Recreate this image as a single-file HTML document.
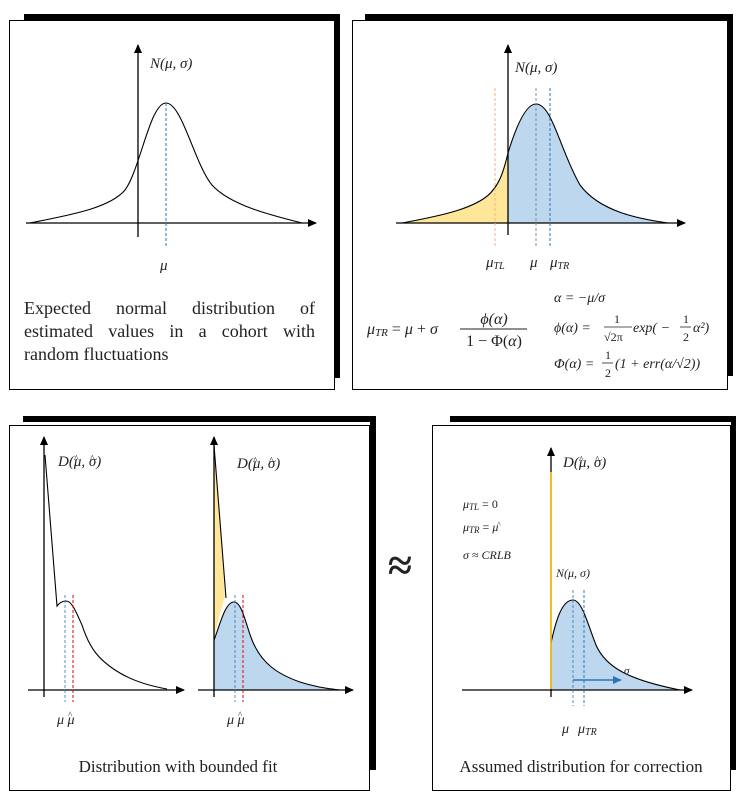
<!DOCTYPE html>
<html><head><meta charset="utf-8"><style>
body{margin:0;background:#fff;position:relative}
svg{display:block}
text{font-family:"Liberation Serif",serif;fill:#222}
.m{font-style:italic}
#cap{position:absolute;left:24px;top:297px;width:291px;font-family:"Liberation Serif",serif;font-size:18px;line-height:23px;color:#222}
#cap div.j{text-align:justify;text-align-last:justify}
</style></head><body>
<svg width="740" height="810" viewBox="0 0 740 810" xmlns="http://www.w3.org/2000/svg">
<defs>
<marker id="ar" markerWidth="10" markerHeight="10" refX="8" refY="5" orient="auto" markerUnits="userSpaceOnUse">
<path d="M0,1 L9,5 L0,9 Z" fill="#000"/></marker>
<marker id="ab" markerWidth="10" markerHeight="10" refX="8" refY="5" orient="auto" markerUnits="userSpaceOnUse">
<path d="M0,1 L9,5 L0,9 Z" fill="#2e75b6"/></marker>
</defs>

<!-- Panel 1 -->
<rect x="24" y="14" width="316" height="6" fill="#000"/>
<rect x="334" y="14" width="6" height="364" fill="#000"/>
<rect x="9.5" y="20.5" width="325" height="369" fill="#fff" stroke="#000"/>
<line x1="138" y1="237" x2="138" y2="45" stroke="#000" stroke-width="1.3" marker-end="url(#ar)"/>
<line x1="26" y1="223" x2="316" y2="223" stroke="#000" stroke-width="1.3" marker-end="url(#ar)"/>
<path d="M30,223 C70,215 110,208 125,190 C140,170 150,103 166,103 C182,103 195,165 212,185 C230,205 270,215 302,223" fill="none" stroke="#000" stroke-width="1.1"/>
<line x1="166" y1="103" x2="166" y2="246" stroke="#2e75b6" stroke-dasharray="3,2"/>
<text x="150" y="68" font-size="15" class="m">N(μ, σ)</text>
<text x="160" y="270" font-size="15" class="m">μ</text>

<!-- Panel 2 -->
<rect x="365" y="14" width="368" height="6" fill="#000"/>
<rect x="727" y="14" width="6" height="362" fill="#000"/>
<rect x="352.5" y="20.5" width="375" height="369" fill="#fff" stroke="#000"/>
<path d="M402,223 C440,216 480,208 493,190 C500,182 504,170 508,153 L508,223 Z" fill="#ffe699"/>
<path d="M508,153 C515,130 525,104 536,104 C552,104 560,150 580,185 C600,212 640,219 668,223 L508,223 Z" fill="#bdd7ee"/>
<path d="M402,223 C440,216 480,208 493,190 C500,182 504,170 508,153 C515,130 525,104 536,104 C552,104 560,150 580,185 C600,212 640,219 668,223" fill="none" stroke="#000" stroke-width="1.1"/>
<line x1="508" y1="235" x2="508" y2="45" stroke="#000" stroke-width="1.3" marker-end="url(#ar)"/>
<line x1="396" y1="223" x2="685" y2="223" stroke="#000" stroke-width="1.3" marker-end="url(#ar)"/>
<line x1="495" y1="88" x2="495" y2="246" stroke="#f4b183" stroke-dasharray="3,2"/>
<line x1="536" y1="88" x2="536" y2="246" stroke="#7f8c9a" stroke-dasharray="3,2"/>
<line x1="550" y1="88" x2="550" y2="246" stroke="#2e75b6" stroke-dasharray="3,2"/>
<text x="515" y="72" font-size="15" class="m">N(μ, σ)</text>
<text x="486" y="267" font-size="15" class="m">μ<tspan font-size="10" dy="2">TL</tspan></text>
<text x="530" y="267" font-size="15" class="m">μ</text>
<text x="550" y="267" font-size="15" class="m">μ<tspan font-size="10" dy="2">TR</tspan></text>
<text x="367" y="334" font-size="16" class="m">μ<tspan font-size="11" dy="2">TR</tspan><tspan dy="-2" font-style="normal"> = </tspan>μ<tspan font-style="normal"> + </tspan>σ</text>
<text x="494" y="324" font-size="16" class="m" text-anchor="middle">ϕ(α)</text>
<line x1="460" y1="329" x2="527" y2="329" stroke="#222"/>
<text x="494" y="346" font-size="16" class="m" text-anchor="middle"><tspan font-style="normal">1 − Φ(</tspan>α<tspan font-style="normal">)</tspan></text>
<text x="554" y="302" font-size="14" class="m">α = −μ/σ</text>
<text x="554" y="332" font-size="14" class="m">ϕ(α) =</text>
<text x="614" y="323" font-size="12">1</text>
<line x1="604" y1="327" x2="632" y2="327" stroke="#222" stroke-width="0.8"/>
<text x="604" y="341" font-size="12">√2π</text>
<text x="633" y="332" font-size="14" class="m">exp( −</text>
<text x="683" y="323" font-size="12">1</text>
<line x1="680" y1="327" x2="691" y2="327" stroke="#222" stroke-width="0.8"/>
<text x="683" y="341" font-size="12">2</text>
<text x="693" y="332" font-size="14" class="m">α²)</text>
<text x="554" y="368" font-size="14" class="m">Φ(α) =</text>
<text x="605" y="359" font-size="12">1</text>
<line x1="602" y1="363" x2="613" y2="363" stroke="#222" stroke-width="0.8"/>
<text x="605" y="377" font-size="12">2</text>
<text x="615" y="368" font-size="14" class="m">(1 + err(α/√2))</text>

<!-- Panel 3 -->
<rect x="23" y="416" width="352" height="6" fill="#000"/>
<rect x="370" y="416" width="6" height="354" fill="#000"/>
<rect x="9.5" y="425.5" width="360" height="365" fill="#fff" stroke="#000"/>
<line x1="44" y1="697" x2="44" y2="437" stroke="#000" stroke-width="1.3" marker-end="url(#ar)"/>
<line x1="28" y1="690" x2="184" y2="690" stroke="#000" stroke-width="1.3" marker-end="url(#ar)"/>
<path d="M45,455 L57,606 C60,602 63,601 66,601 C72,601 76,612 82,625 C90,650 100,660 115,670 C130,680 150,686 167,689" fill="none" stroke="#000" stroke-width="1.1"/>
<line x1="65" y1="595" x2="65" y2="702" stroke="#2e75b6" stroke-dasharray="3,2" stroke-width="0.8"/>
<line x1="73" y1="595" x2="73" y2="702" stroke="#e00" stroke-dasharray="3,2"/>
<text x="58" y="466" font-size="15" class="m">D(μ, σ)</text>
<text x="74" y="462" font-size="10">^</text><text x="90" y="462" font-size="10">^</text>
<text x="57" y="724" font-size="14" class="m">μ μ</text>
<text x="68" y="718" font-size="9">^</text>
<path d="M214,445 L225,596 C221,610 217,625 214,640 Z" fill="#ffe699"/>
<path d="M214,640 C220,625 225,602 234,602 C242,602 246,625 252,640 C262,665 280,675 300,682 C315,687 330,689 340,690 L214,690 Z" fill="#bdd7ee"/>
<path d="M214,445 L226,598" fill="none" stroke="#000" stroke-width="1.1"/>
<path d="M214,640 C220,625 225,602 234,602 C242,602 246,625 252,640 C262,665 280,675 300,682 C315,687 330,689 340,690" fill="none" stroke="#000" stroke-width="1.1"/>
<line x1="214" y1="697" x2="214" y2="437" stroke="#000" stroke-width="1.3" marker-end="url(#ar)"/>
<line x1="198" y1="690" x2="353" y2="690" stroke="#000" stroke-width="1.3" marker-end="url(#ar)"/>
<line x1="235" y1="595" x2="235" y2="702" stroke="#2e75b6" stroke-dasharray="3,2" stroke-width="0.8"/>
<line x1="243" y1="595" x2="243" y2="702" stroke="#e00" stroke-dasharray="3,2"/>
<text x="237" y="468" font-size="15" class="m">D(μ, σ)</text>
<text x="253" y="464" font-size="10">^</text><text x="269" y="464" font-size="10">^</text>
<text x="227" y="724" font-size="14" class="m">μ μ</text>
<text x="238" y="718" font-size="9">^</text>
<text x="178" y="772" font-size="17" text-anchor="middle">Distribution  with  bounded fit</text>

<text x="400" y="580" font-size="44" text-anchor="middle" font-weight="bold" fill="#000">≈</text>

<!-- Panel 4 -->
<rect x="450" y="416" width="286" height="6" fill="#000"/>
<rect x="731" y="416" width="5" height="354" fill="#000"/>
<rect x="432.5" y="425.5" width="298" height="365" fill="#fff" stroke="#000"/>
<path d="M551,643 C556,620 562,600 573,600 C582,600 588,625 596,645 C606,668 630,680 680,690 L551,690 Z" fill="#bdd7ee"/>
<path d="M551,643 C556,620 562,600 573,600 C582,600 588,625 596,645 C606,668 630,680 680,690" fill="none" stroke="#000" stroke-width="1.1"/>
<line x1="551" y1="697" x2="551" y2="448" stroke="#000" stroke-width="1.3" marker-end="url(#ar)"/>
<line x1="551" y1="472" x2="551" y2="689" stroke="#ffc000" stroke-width="1.6"/>
<line x1="462" y1="690" x2="692" y2="690" stroke="#000" stroke-width="1.3" marker-end="url(#ar)"/>
<line x1="573" y1="590" x2="573" y2="706" stroke="#2e75b6" stroke-dasharray="3,2" stroke-width="0.8"/>
<line x1="584" y1="590" x2="584" y2="706" stroke="#2e75b6" stroke-dasharray="3,2"/>
<line x1="573" y1="680" x2="621" y2="680" stroke="#2e75b6" stroke-width="1.5" marker-end="url(#ab)"/>
<text x="624" y="674" font-size="11" class="m">σ</text>
<text x="563" y="467" font-size="15" class="m">D(μ, σ)</text>
<text x="579" y="463" font-size="10">^</text><text x="595" y="463" font-size="10">^</text>
<text x="463" y="508" font-size="12" class="m">μ<tspan font-size="9" dy="2">TL</tspan><tspan dy="-2" font-style="normal"> = 0</tspan></text>
<text x="463" y="531" font-size="12" class="m">μ<tspan font-size="9" dy="2">TR</tspan><tspan dy="-2" font-style="normal"> = </tspan>μ</text>
<text x="497" y="527" font-size="8">^</text>
<text x="463" y="559" font-size="12" class="m">σ ≈ CRLB</text>
<text x="556" y="577" font-size="12" class="m">N(μ, σ)</text>
<text x="562" y="733" font-size="14" class="m">μ</text>
<text x="578" y="733" font-size="14" class="m">μ<tspan font-size="10" dy="2">TR</tspan></text>
<text x="581" y="772" font-size="17" text-anchor="middle">Assumed distribution  for correction</text>
</svg>
<div id="cap"><div class="j">Expected normal distribution of</div><div class="j">estimated values in a cohort with</div><div>random fluctuations</div></div>
</body></html>
